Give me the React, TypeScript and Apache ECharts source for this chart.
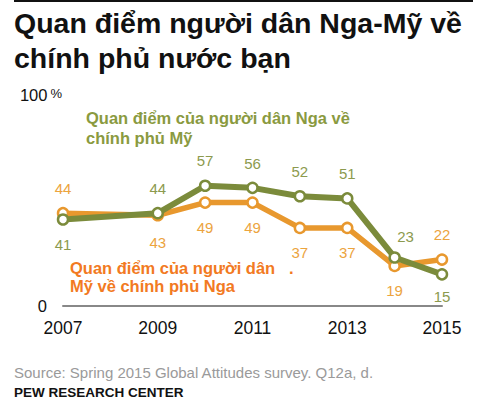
import React, { useEffect, useRef } from "react";
import * as echarts from "echarts";

const years = ["2007", "2008", "2009", "2010", "2011", "2012", "2013", "2014", "2015"];
const russiansOnUS = [41, null, 44, 57, 56, 52, 51, 23, 15];
const americansOnRussia = [44, null, 43, 49, 49, 37, 37, 19, 22];
const greenLabelPos = ["bottom", null, "top", "top", "top", "top", "top", "top", "bottom"];
const orangeLabelPos = ["top", null, "bottom", "bottom", "bottom", "bottom", "bottom", "bottom", "top"];

const titleLines = ["Quan điểm người dân Nga-Mỹ về", "chính phủ nước bạn"];
const greenNote = ["Quan điểm của người dân Nga về", "chính phủ Mỹ"];
const orangeNote = ["Quan điểm của người dân   .", "Mỹ về chính phủ Nga"];
const sourceText = "Source: Spring 2015 Global Attitudes survey. Q12a, d.";
const creditText = "PEW RESEARCH CENTER";

const FONT = "'Liberation Sans', Arial, sans-serif";
const GREEN_LINE = "#7b8b3b";
const GREEN_TEXT = "#8c9a4e";
const GREEN_NOTE = "#8a9a40";
const ORANGE_LINE = "#e8982e";
const ORANGE_TEXT = "#eca43e";
const ORANGE_NOTE = "#f27a22";

function buildData(values: (number | null)[], pos: (string | null)[], special: Record<number, any>) {
  return values.map((v, i) => {
    if (v === null) return null;
    const item: any = { value: v, label: { position: pos[i] } };
    if (special[i]) Object.assign(item.label, special[i]);
    return item;
  });
}

export default function App() {
  const ref = useRef<HTMLDivElement>(null);
  useEffect(() => {
    if (!ref.current) return;
    const chart = echarts.init(ref.current, undefined, { renderer: "svg" });
    const text = (x: number, y: number, s: string, style: any) => ({
      type: "text",
      x,
      y,
      style: { text: s, fontFamily: FONT, verticalAlign: "middle", align: "left", ...style },
    });
    chart.setOption({
      animation: false,
      backgroundColor: "#ffffff",
      grid: { left: 63, right: 38, top: 95, bottom: 106 },
      xAxis: {
        type: "category",
        data: years,
        boundaryGap: false,
        axisLine: { lineStyle: { color: "#888888", width: 2 } },
        axisTick: { show: false },
        axisLabel: { interval: 1, margin: 13, color: "#111111", fontSize: 17.5, fontFamily: FONT },
        splitLine: { show: false },
      },
      yAxis: {
        type: "value",
        min: 0,
        max: 100,
        interval: 100,
        axisLine: { show: false },
        axisTick: { show: false },
        splitLine: { show: false },
        axisLabel: {
          margin: 1,
          fontFamily: FONT,
          formatter: (v: number) => (v === 100 ? "{n|100}{p|%}" : "{n|0}{s|}"),
          rich: {
            n: { fontSize: 16.5, color: "#111111", fontFamily: FONT },
            p: { fontSize: 13, color: "#111111", fontFamily: FONT, padding: [0, 0, 3, 3] },
            s: { width: 15 },
          },
        },
      },
      series: [
        {
          type: "line",
          name: "Americans on Russia",
          data: buildData(americansOnRussia, orangeLabelPos, { 2: { offset: [0, 2] } }),
          connectNulls: true,
          symbol: "circle",
          symbolSize: 10,
          lineStyle: { color: ORANGE_LINE, width: 5.5 },
          itemStyle: { color: "#ffffff", borderColor: ORANGE_LINE, borderWidth: 2.5 },
          label: { show: true, distance: 11, color: ORANGE_TEXT, fontSize: 15, fontFamily: FONT },
          z: 2,
        },
        {
          type: "line",
          name: "Russians on US",
          data: buildData(russiansOnUS, greenLabelPos, { 7: { offset: [11, 4] }, 8: { offset: [0, -3] } }),
          connectNulls: true,
          symbol: "circle",
          symbolSize: 10,
          lineStyle: { color: GREEN_LINE, width: 6 },
          itemStyle: { color: "#ffffff", borderColor: GREEN_LINE, borderWidth: 2.5 },
          label: { show: true, distance: 11, color: GREEN_TEXT, fontSize: 15, fontFamily: FONT },
          z: 3,
        },
      ],
      graphic: [
        { type: "line", shape: { x1: 14, y1: 1, x2: 473, y2: 1 }, style: { stroke: "#111111", lineWidth: 2 } },
        text(14, 22.5, titleLines[0], { fontSize: 28.5, fontWeight: "bold", fill: "#111111" }),
        text(14, 57.5, titleLines[1], { fontSize: 28.5, fontWeight: "bold", fill: "#111111" }),
        text(86, 117.5, greenNote[0], { fontSize: 16.5, fontWeight: "bold", fill: GREEN_NOTE }),
        text(86, 138, greenNote[1], { fontSize: 16.5, fontWeight: "bold", fill: GREEN_NOTE }),
        text(70, 267.5, orangeNote[0], { fontSize: 16.5, fontWeight: "bold", fill: ORANGE_NOTE }),
        text(70, 286, orangeNote[1], { fontSize: 16.5, fontWeight: "bold", fill: ORANGE_NOTE }),
        text(14, 372, sourceText, { fontSize: 15, fill: "#9a9a9a" }),
        text(14, 392, creditText, { fontSize: 13.5, fontWeight: "bold", fill: "#111111" }),
      ],
    });
    return () => chart.dispose();
  }, []);
  return <div ref={ref} style={{ position: "fixed", left: 0, top: 0, width: 480, height: 412 }} />;
}
